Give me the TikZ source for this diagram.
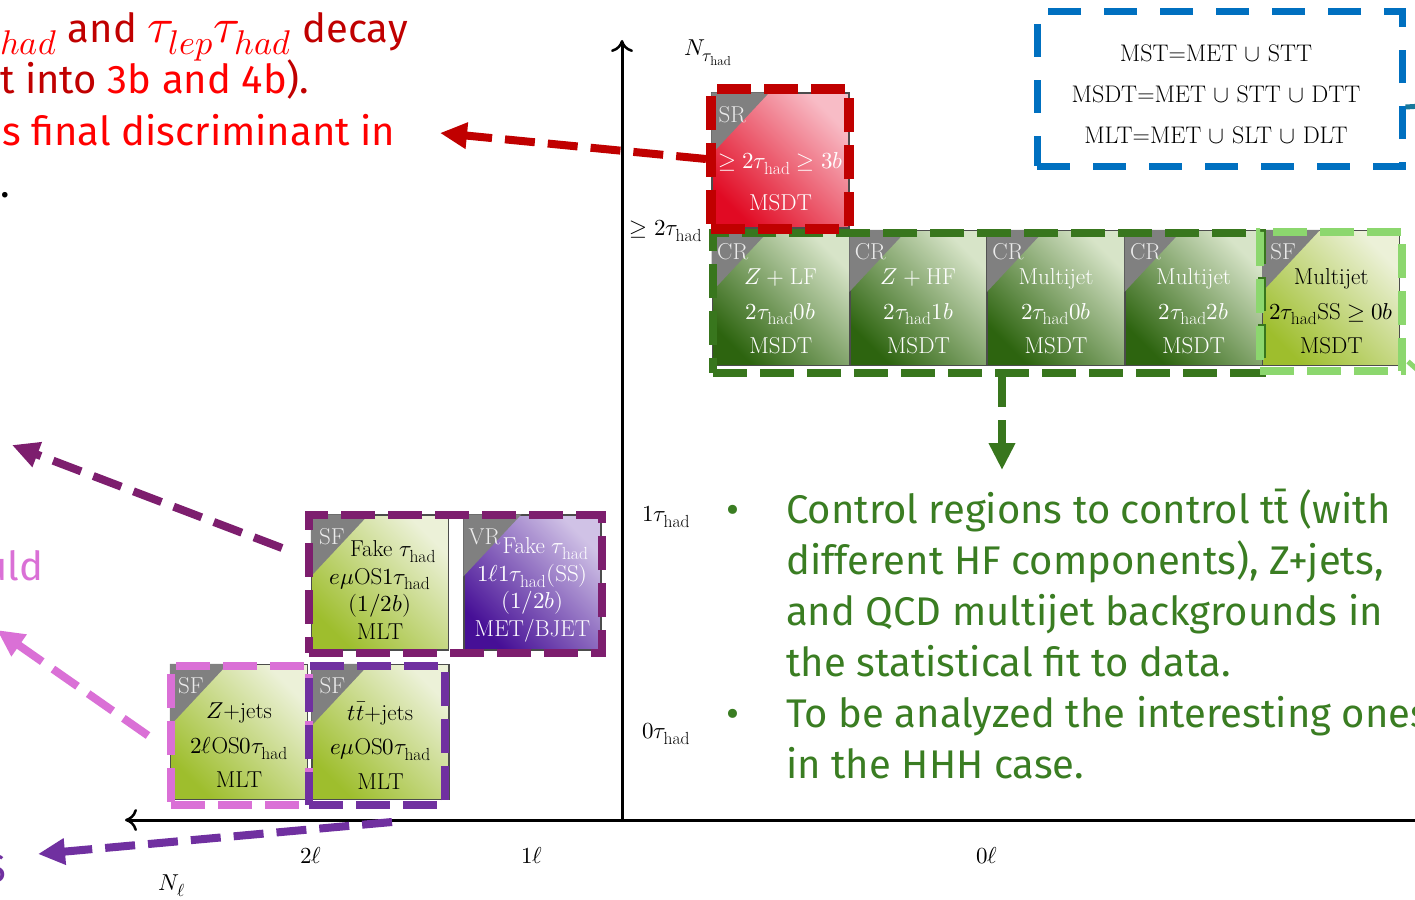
\documentclass[tikz,border=0pt]{standalone}
\usepackage{fontspec}
\usepackage{unicode-math}
\setmathfont{Latin Modern Math}
\DeclareMathSizes{23}{23}{17.5}{13}
\DeclareMathSizes{24}{24}{18}{14}
\newfontfamily\gfont{Fira Sans}
\usetikzlibrary{arrows.meta}

\definecolor{cgreenD}{RGB}{45,100,15}
\definecolor{cgreenL}{RGB}{215,228,200}
\definecolor{cyelD}{RGB}{158,190,45}
\definecolor{cyelL}{RGB}{236,241,216}
\definecolor{credD}{RGB}{225,10,35}
\definecolor{credL}{RGB}{248,188,198}
\definecolor{cpurD}{RGB}{70,15,150}
\definecolor{cpurL}{RGB}{208,194,230}
\definecolor{hlred}{RGB}{192,0,0}
\definecolor{hlgreen}{RGB}{56,118,29}
\definecolor{hllg}{RGB}{140,215,110}
\definecolor{hlblue}{RGB}{0,112,192}
\definecolor{hlteal}{RGB}{25,120,155}
\definecolor{hlmag}{RGB}{125,30,110}
\definecolor{hlpink}{RGB}{218,112,214}
\definecolor{hlpur}{RGB}{112,48,160}
\definecolor{txtgreen}{RGB}{58,125,34}
\definecolor{txtred}{RGB}{255,0,0}
\definecolor{txtdred}{RGB}{192,0,0}

\tikzset{
  regionbox/.style={draw=black!70, line width=1.2pt, minimum width=137pt, minimum height=135pt, inner sep=0pt},
  cr/.style={top color=cgreenL, bottom color=cgreenD, shading angle=-45},
  sf/.style={top color=cyelL, bottom color=cyelD, shading angle=-45},
  sff/.style={sf},
  sr/.style={top color=credL, bottom color=credD, shading angle=-45},
  vr/.style={top color=cpurL, bottom color=cpurD, shading angle=-45},
  cr-txt/.style={text=white, font=\fontsize{23}{34.5}\selectfont},
  sf-txt/.style={text=black, font=\fontsize{23}{34.5}\selectfont},
  sr-txt/.style={text=white, font=\fontsize{23}{42}\selectfont},
  vr-txt/.style={text=white, font=\fontsize{23}{27.5}\selectfont},
  sff-txt/.style={text=black, font=\fontsize{23}{27.5}\selectfont},
  boxtxt/.style={align=center, inner sep=0pt},
  tri/.style={fill=black!50},
  labtxt/.style={text=white!92!black, font=\fontsize{23}{24}\selectfont, inner sep=0pt},
  axlab/.style={font=\fontsize{23}{24}\selectfont, inner sep=0pt},
  hl/.style={line width=8pt, dash pattern=on 34pt off 13pt, inner sep=0pt, minimum width=#1},
  darr/.style={line width=8pt, dash pattern=on 30pt off 13pt, -{Triangle[length=27pt,width=25pt]}},
  axisline/.style={line width=3pt, -{Computer Modern Rightarrow[length=12pt,width=22pt,line width=2.5pt]}},
  gline/.style={anchor=base west, inner sep=0pt, text=txtgreen, font=\gfont\fontsize{40}{51}\selectfont},
  rline/.style={anchor=base west, inner sep=0pt, font=\gfont\fontsize{40}{51}\selectfont},
}
\newcommand{\redmath}[1]{{\fontsize{49}{51}\selectfont #1}}

% name, position, kind, tag, text y-shift, content
\newcommand{\regbox}[6]{%
  \node[regionbox, #3] (#1) at (#2) {};
  \fill[tri] (#1.north west) -- ++(58,0) -- ([yshift=-62pt]#1.north west) -- cycle;
  \node[labtxt] (#1-tag) at ([shift={(21,22)}]#1.north west) {#4};
  \node[boxtxt, #3-txt] (#1-txt) at ([yshift=#5]#1.center) {#6};
}

\begin{document}
\begin{tikzpicture}[x=1pt,y=-1pt]
\useasboundingbox (0,0) rectangle (1415,899);
\clip (0,0) rectangle (1415,899);
\fill[white] (0,0) rectangle (1415,899);

% axes
\coordinate (axO) at (622,820);
\coordinate (axtop) at (622,40);
\coordinate (axleft) at (125,820);
\coordinate (axright) at (1425,820);
\draw[axisline] (axO) -- (axtop);
\draw[axisline] (axright) -- (axleft);

\node[axlab] (lNt) at (708,53) {$N_{\tau_{\mathrm{had}}}$};
\node[axlab] (l2t) at (666,231) {$\geq 2\tau_{\mathrm{had}}$};
\node[axlab] (l1t) at (666,517) {$1\tau_{\mathrm{had}}$};
\node[axlab] (l0t) at (666,734) {$0\tau_{\mathrm{had}}$};
\node[axlab] (l2l) at (311,856) {$2\ell$};
\node[axlab] (l1l) at (532,856) {$1\ell$};
\node[axlab] (l0l) at (987,856) {$0\ell$};
\node[axlab] (lNl) at (172,886) {$N_{\ell}$};

% region boxes
\regbox{srA}{780.5,160.5}{sr}{SR}{-21.5pt}{$\geq 2\tau_{\mathrm{had}}\geq 3b$\\ MSDT}
\regbox{crA}{780.8,298}{cr}{CR}{-13.5pt}{$Z+\mathrm{LF}$\\ $2\tau_{\mathrm{had}}0b$\\ MSDT}
\regbox{crB}{918.4,298}{cr}{CR}{-13.5pt}{$Z+\mathrm{HF}$\\ $2\tau_{\mathrm{had}}1b$\\ MSDT}
\regbox{crC}{1056,298}{cr}{CR}{-13.5pt}{Multijet\\ $2\tau_{\mathrm{had}}0b$\\ MSDT}
\regbox{crD}{1193.6,298}{cr}{CR}{-13.5pt}{Multijet\\ $2\tau_{\mathrm{had}}2b$\\ MSDT}
\regbox{sfE}{1331.2,298}{sf}{SF}{-13.5pt}{Multijet\\ $2\tau_{\mathrm{had}}\mathrm{SS}\geq 0b$\\ MSDT}
\regbox{sfF}{380,582.5}{sff}{SF}{-7.5pt}{\hspace*{26pt}Fake $\tau_{\mathrm{had}}$\\ $e\mu\mathrm{OS}1\tau_{\mathrm{had}}$\\ $(1/2b)$\\ MLT}
\regbox{vrG}{532.5,582.5}{vr}{VR}{-7.5pt}{\hspace*{26pt}Fake $\tau_{\mathrm{had}}$\\ $1\ell 1\tau_{\mathrm{had}}(\mathrm{SS})$\\ $(1/2b)$\\ MET/BJET}
\regbox{sfH}{239,732}{sf}{SF}{-13.5pt}{$Z$+jets\\ $2\ell\mathrm{OS}0\tau_{\mathrm{had}}$\\ MLT}
\regbox{sfI}{380.5,732}{sf}{SF}{-13.5pt}{$t\bar{t}$+jets\\ $e\mu\mathrm{OS}0\tau_{\mathrm{had}}$\\ MLT}

% highlight frames
\node[hl=549pt, draw=hlgreen, minimum height=140pt] (hlgrn) at (987.5,303) {};
\node[hl=142pt, draw=hllg, minimum height=139pt] (hllgt) at (1331,301.5) {};
\node[hl=138pt, draw=hlred, minimum height=140pt, line width=10pt] (hlsr) at (780,159) {};
\node[hl=293pt, draw=hlmag, minimum height=138pt] (hlfake) at (455.5,584) {};
\node[hl=138pt, draw=hlpink, minimum height=139pt] (hlz) at (240,735.5) {};
\node[hl=136pt, draw=hlpur, minimum height=139pt] (hltt) at (377,735.5) {};
\node[hl=365pt, draw=hlblue, minimum height=154pt, line width=7pt, dash pattern=on 33pt off 23pt] (hlblu) at (1219.5,89) {};

\node[font=\fontsize{24}{41}\selectfont, align=center, inner sep=0pt] (trig) at (1216,94.5)
  {MST=MET $\cup$ STT\\ MSDT=MET $\cup$ STT $\cup$ DTT\\ MLT=MET $\cup$ SLT $\cup$ DLT};

% arrows
\coordinate (tipred) at (440,133);
\coordinate (tipmag) at (12,445);
\coordinate (tippink) at (-3,630);
\coordinate (tippur) at (38,854);
\coordinate (tipgrn) at (1002,470);
\coordinate (endlg) at (1440,390);
\coordinate (endbl) at (1440,105);
\draw[darr, hlred] (hlsr.west) -- (tipred);
\draw[darr, hlmag] ([shift={(-23,-36)}]hlfake.west) -- (tipmag);
\draw[darr, hlpink] ([shift={(-19,0)}]hlz.west) -- (tippink);
\draw[darr, hlpur] ([shift={(15,13)}]hltt.south) -- (tippur);
\draw[darr, hlgreen] ([xshift=14.5pt]hlgrn.south) -- (tipgrn);
\draw[line width=5pt, hllg] ([shift={(2,60)}]hllgt.east) -- (endlg);
\draw[line width=5pt, hlteal] ([shift={(0,18)}]hlblu.east) -- (endbl);

% green text
\node[gline, anchor=base] (b1) at (733,523) {•};
\node[gline, anchor=base] (b2) at (733,727) {•};
\node[gline] (g1) at (786,523) {Control regions to control tt̄ (with};
\node[gline] (g2) at (786,574) {different HF components), Z+jets,};
\node[gline] (g3) at (786,625) {and QCD multijet backgrounds in};
\node[gline] (g4) at (786,676) {the statistical fit to data.};
\node[gline] (g5) at (786,727) {To be analyzed the interesting ones};
\node[gline] (g6) at (786,778) {in the HHH case.};

% left texts
\node[rline] (r1) at (0,42) {\color{txtred}\redmath{${}_{had}$} \color{txtdred}and \color{txtred}\redmath{$\tau_{lep}\tau_{had}$} \color{txtdred}decay};
\node[rline] (r2) at (0,93) {\color{txtdred}t into \color{txtred}3b and 4b\color{txtdred}).};
\node[rline, text=txtred] (r3) at (2,145) {s final discriminant in};
\node[rline, text=black] (r4) at (0,197) {.};
\node[rline, text=hlpink] (p1) at (-16,580) {uld};
\node[rline, text=hlpur] (p2) at (-16,882) {S};
\end{tikzpicture}
\end{document}
